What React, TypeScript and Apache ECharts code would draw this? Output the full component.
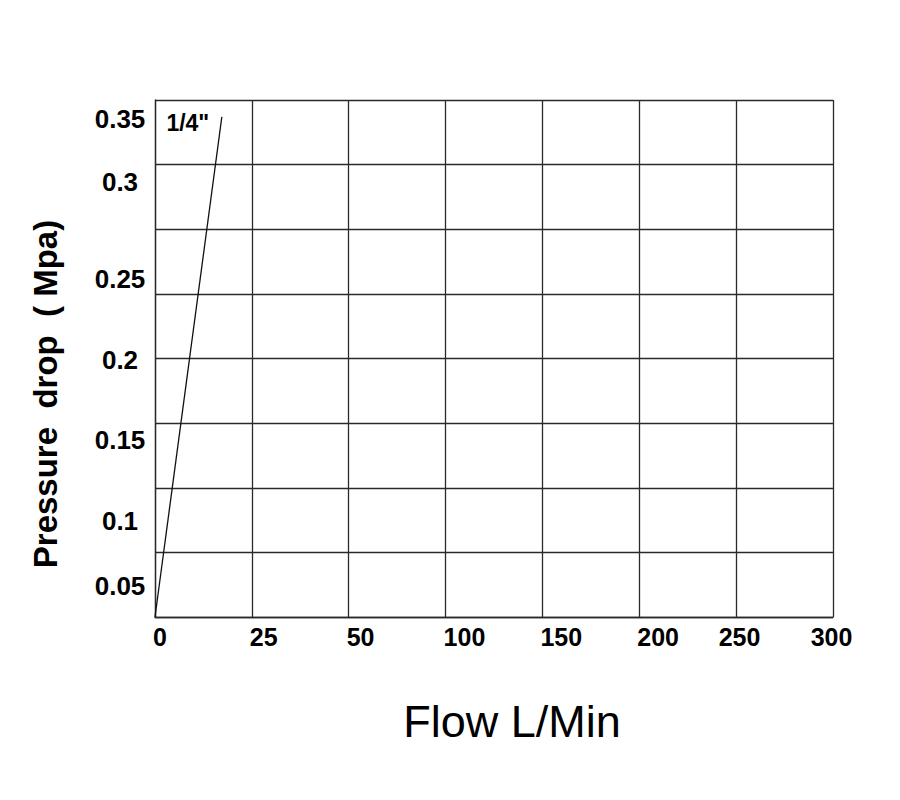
import React, { useEffect, useRef } from "react";
import * as echarts from "echarts";

// Axis tick labels (the chart's axes are not linear; positions are in grid-cell units)
const xTickLabels = ["0", "25", "50", "100", "150", "200", "250", "300"];
const xTickLabelPos = [0, 1, 2, 3, 4, 5, 5.84, 6.79];
const yTickLabels = ["0.05", "0.1", "0.15", "0.2", "0.25", "0.3", "0.35"];
const yTickLabelPos = [0.48, 1.49, 2.74, 3.98, 5.23, 6.73, 7.71];

// Series: 1/4" curve (grid-cell units)
const seriesName = '1/4"';
const seriesX = [0, 0.69];
const seriesY = [0, 7.74];

const xTitle = "Flow L/Min";
const yTitle = "Pressure  drop  ( Mpa)";

export default function App() {
  const ref = useRef<HTMLDivElement>(null);
  useEffect(() => {
    if (!ref.current) return;
    const chart = echarts.init(ref.current, null, { renderer: "svg" });
    const font = "'Liberation Sans', Arial, sans-serif";
    const lineColor = "#2a2a2a";
    const textLabel = (size: number, pos: number[], align: string) => ({
      show: true,
      position: pos,
      formatter: (p: any) => p.data[2],
      align,
      verticalAlign: "middle",
      fontFamily: font,
      fontWeight: "bold",
      fontSize: size,
      color: "#000",
      textBorderWidth: 0,
    });
    chart.setOption({
      animation: false,
      backgroundColor: "#fff",
      grid: { left: 155, right: 67, top: 100, bottom: 183 },
      xAxis: {
        type: "value",
        min: 0,
        max: 7,
        interval: 1,
        axisLine: { show: true, lineStyle: { color: lineColor, width: 1.3 } },
        axisTick: { show: false },
        axisLabel: { show: false },
        splitLine: { show: true, lineStyle: { color: lineColor, width: 1.3 } },
      },
      yAxis: {
        type: "value",
        min: 0,
        max: 8,
        interval: 1,
        axisLine: { show: true, lineStyle: { color: lineColor, width: 1.3 } },
        axisTick: { show: false },
        axisLabel: { show: false },
        splitLine: { show: true, lineStyle: { color: lineColor, width: 1.3 } },
      },
      series: [
        {
          type: "line",
          name: seriesName,
          data: seriesX.map((x, i) => [x, seriesY[i]]),
          symbol: "none",
          lineStyle: { color: "#111", width: 1.3 },
          z: 3,
        },
        {
          type: "scatter",
          symbolSize: 0,
          silent: true,
          clip: false,
          itemStyle: { color: "#000", opacity: 1 },
          data: [[seriesX[seriesX.length - 1], seriesY[seriesY.length - 1], seriesName]],
          label: textLabel(23, [-34, 6], "center"),
        },
        {
          type: "scatter",
          symbolSize: 0,
          silent: true,
          clip: false,
          itemStyle: { color: "#000", opacity: 1 },
          data: yTickLabelPos.map((v, i) => [0, v, yTickLabels[i]]),
          label: textLabel(26, [-35, 0], "center"),
        },
        {
          type: "scatter",
          symbolSize: 0,
          silent: true,
          clip: false,
          itemStyle: { color: "#000", opacity: 1 },
          data: xTickLabelPos.map((v, i) => [v, 0, xTickLabels[i]]),
          label: textLabel(25, [-2, 20], "left"),
        },
      ],
      graphic: [
        {
          type: "text",
          x: 512,
          y: 721,
          style: {
            text: xTitle,
            fontFamily: font,
            fontSize: 45,
            fill: "#000",
            align: "center",
            verticalAlign: "middle",
          },
        },
        {
          type: "text",
          x: 45,
          y: 394,
          rotation: Math.PI / 2,
          style: {
            text: yTitle,
            fontFamily: font,
            fontWeight: "bold",
            fontSize: 33,
            fill: "#000",
            align: "center",
            verticalAlign: "middle",
          },
        },
      ],
    });
    return () => chart.dispose();
  }, []);
  return (
    <div
      ref={ref}
      style={{ position: "absolute", left: 0, top: 0, width: 900, height: 800 }}
    />
  );
}
